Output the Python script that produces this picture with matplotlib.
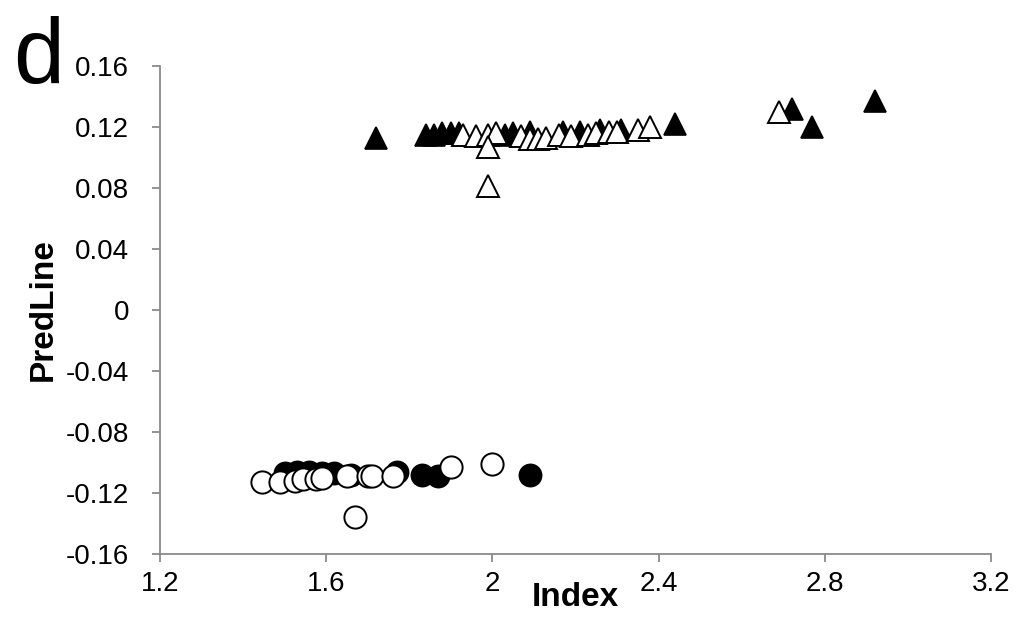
import numpy as np
import matplotlib
matplotlib.use('Agg')
import matplotlib.pyplot as plt

plt.rcParams['font.family'] = ['Liberation Sans', 'DejaVu Sans']

# triangulos (PredLine > 0)
tri_cheio_x = [1.72, 1.84, 1.86, 1.88, 1.90, 1.92, 2.03, 2.05, 2.09, 2.17, 2.21, 2.26, 2.31, 2.44, 2.72, 2.77, 2.92]
tri_cheio_y = [0.113, 0.115, 0.115, 0.116, 0.116, 0.116, 0.115, 0.116, 0.117, 0.117, 0.117, 0.118, 0.118, 0.122, 0.132, 0.120, 0.137]
tri_vazio_x = [1.93, 1.96, 1.99, 2.01, 1.99, 1.99, 2.07, 2.09, 2.11, 2.13, 2.16, 2.19, 2.23, 2.25, 2.28, 2.30, 2.35, 2.38, 2.69]
tri_vazio_y = [0.115, 0.114, 0.115, 0.116, 0.107, 0.081, 0.114, 0.112, 0.112, 0.113, 0.115, 0.114, 0.115, 0.116, 0.117, 0.117, 0.118, 0.120, 0.130]

# circulos (PredLine < 0)
circ_cheio_x = [1.50, 1.53, 1.56, 1.59, 1.62, 1.66, 1.77, 1.83, 1.87, 2.09]
circ_cheio_y = [-0.107, -0.106, -0.106, -0.107, -0.107, -0.108, -0.106, -0.108, -0.109, -0.108]
circ_vazio_x = [1.445, 1.489, 1.525, 1.545, 1.575, 1.59, 1.65, 1.67, 1.70, 1.71, 1.76, 1.90, 2.00]
circ_vazio_y = [-0.113, -0.113, -0.112, -0.111, -0.111, -0.110, -0.109, -0.136, -0.109, -0.109, -0.109, -0.103, -0.101]

x_ticks = [1.2, 1.6, 2.0, 2.4, 2.8, 3.2]
x_tick_labels = ['1.2', '1.6', '2', '2.4', '2.8', '3.2']
y_ticks = [-0.16, -0.12, -0.08, -0.04, 0, 0.04, 0.08, 0.12, 0.16]
y_tick_labels = ['-0.16', '-0.12', '-0.08', '-0.04', '0', '0.04', '0.08', '0.12', '0.16']

fig = plt.figure(figsize=(10.18, 6.28), dpi=100)
ax = fig.add_axes([0.157, 0.118, 0.8165, 0.777])

ms = 16
ax.plot(tri_cheio_x, tri_cheio_y, '^', ms=ms, mfc='black', mec='black', mew=1.2, ls='none')
ax.plot(tri_vazio_x, tri_vazio_y, '^', ms=ms, mfc='white', mec='black', mew=1.4, ls='none')
ax.plot(circ_cheio_x, circ_cheio_y, 'o', ms=ms, mfc='black', mec='black', mew=1.2, ls='none')
ax.plot(circ_vazio_x, circ_vazio_y, 'o', ms=ms, mfc='white', mec='black', mew=1.4, ls='none')

ax.set_xlim(1.2, 3.2)
ax.set_ylim(-0.16, 0.16)
ax.set_xticks(x_ticks)
ax.set_xticklabels(x_tick_labels)
ax.set_yticks(y_ticks)
ax.set_yticklabels(y_tick_labels)

for s in ['top', 'right']:
    ax.spines[s].set_visible(False)
for s in ['left', 'bottom']:
    ax.spines[s].set_color('#8a8a8a')
    ax.spines[s].set_linewidth(1.3)
ax.tick_params(direction='out', length=6, width=1.3, color='#8a8a8a', labelsize=20)
ax.tick_params(axis='y', pad=16)
ax.tick_params(axis='x', pad=6)

ax.set_xlabel('Index', fontsize=24, fontweight='bold')
ax.xaxis.set_label_coords(0.5, -0.058)
ax.set_ylabel('PredLine', fontsize=24, fontweight='bold')
ax.yaxis.set_label_coords(-0.122, 0.5)

fig.text(0.038, 0.868, 'd', fontsize=66, ha='center', va='baseline')

plt.savefig('out.png', dpi=100)
plt.close()
